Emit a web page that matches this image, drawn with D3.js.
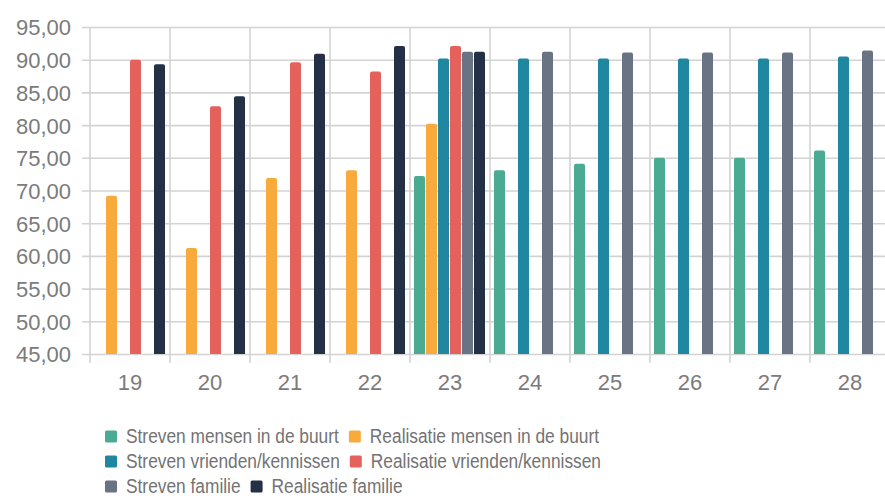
<!DOCTYPE html>
<html>
<head>
<meta charset="utf-8">
<script src="https://cdn.jsdelivr.net/npm/d3@7"></script>
<style>
  html, body { margin: 0; padding: 0; background: #fff; overflow: hidden; }
  svg { display: block; font-family: "Liberation Sans", Arial, sans-serif; }
</style>
</head>
<body>
<svg id="chart" width="885" height="500"></svg>
<script>
// ---- data ----
const categories = ["19", "20", "21", "22", "23", "24", "25", "26", "27", "28"];
const seriesNames = [
  "Streven mensen in de buurt",
  "Realisatie mensen in de buurt",
  "Streven vrienden/kennissen",
  "Realisatie vrienden/kennissen",
  "Streven familie",
  "Realisatie familie"
];
const strevenBuurt       = [null, null, null, null, 72.2, 73.1, 74.1, 75.0, 75.0, 76.1];
const realisatieBuurt    = [69.2, 61.2, 71.9, 73.1, 80.2, null, null, null, null, null];
const strevenVrienden    = [null, null, null, null, 90.2, 90.2, 90.2, 90.2, 90.2, 90.5];
const realisatieVrienden = [90.0, 82.9, 89.6, 88.2, 92.1, null, null, null, null, null];
const strevenFamilie     = [null, null, null, null, 91.2, 91.2, 91.1, 91.1, 91.1, 91.4];
const realisatieFamilie  = [89.3, 84.4, 90.9, 92.1, 91.2, null, null, null, null, null];
const yTicks = [45, 50, 55, 60, 65, 70, 75, 80, 85, 90, 95];
const colors = ["#4bab92", "#f9aa3c", "#1f88a0", "#e5625c", "#6a7384", "#233046"];

const seriesValues = [strevenBuurt, realisatieBuurt, strevenVrienden, realisatieVrienden, strevenFamilie, realisatieFamilie];

// ---- layout ----
const svg = d3.select("#chart");
const mLeft = 90, mRight = 890, mTop = 27, mBottom = 354;

const x = d3.scaleBand().domain(categories).range([mLeft, mRight]).paddingInner(0).paddingOuter(0);
const xs = d3.scaleBand().domain(d3.range(seriesNames.length)).range([4, x.bandwidth() - 4]).padding(0);
const y = d3.scaleLinear().domain([45, 95]).range([mBottom, mTop]);

const locale = d3.formatLocale({ decimal: ",", thousands: ".", grouping: [3], currency: ["€", ""] });
const fmt = locale.format(".2f");

const gridColor = "#d3d3d3";
const textColor = "#7b7b7b";

// horizontal gridlines + y labels
const yAxis = svg.append("g")
  .attr("transform", `translate(${mLeft},0)`)
  .call(d3.axisLeft(y).tickValues(yTicks).tickFormat(fmt).tickSize(8).tickPadding(11));
yAxis.select(".domain").remove();
yAxis.selectAll(".tick line").attr("x1", -8).attr("x2", mRight - mLeft).attr("stroke", gridColor).attr("stroke-width", 1.6);
yAxis.selectAll(".tick text").attr("fill", textColor).style("font-size", "22px").attr("dy", "0.36em");

// vertical gridlines at category boundaries
const bounds = categories.map(c => x(c)).concat([x(categories[categories.length - 1]) + x.bandwidth()]);
svg.append("g").selectAll("line").data(bounds).join("line")
  .attr("x1", d => d).attr("x2", d => d)
  .attr("y1", mTop).attr("y2", mBottom + 9)
  .attr("stroke", gridColor).attr("stroke-width", 1.6);

// x labels
const xAxis = svg.append("g")
  .attr("transform", `translate(0,${mBottom})`)
  .call(d3.axisBottom(x).tickSize(0).tickPadding(20));
xAxis.select(".domain").remove();
xAxis.selectAll(".tick text").attr("fill", textColor).style("font-size", "22px");

// bars
function barPath(x0, w, yTop, yBot, r) {
  r = Math.min(r, w / 2, (yBot - yTop));
  return `M${x0},${yBot} L${x0},${yTop + r} Q${x0},${yTop} ${x0 + r},${yTop} L${x0 + w - r},${yTop} Q${x0 + w},${yTop} ${x0 + w},${yTop + r} L${x0 + w},${yBot} Z`;
}
const barData = [];
categories.forEach((c, i) => {
  seriesValues.forEach((vals, s) => {
    if (vals[i] != null) barData.push({ c, s, v: vals[i] });
  });
});
const barW = xs.bandwidth() - 1;
svg.append("g").selectAll("path").data(barData).join("path")
  .attr("d", d => barPath(x(d.c) + xs(d.s), barW, y(d.v), y(45), 2))
  .attr("fill", d => colors[d.s]);

// legend
const legendRows = [[0, 1], [2, 3], [4, 5]];
const legendX = 105, legendY0 = 436.5, rowGap = 25, sx = 0.825;
const leg = svg.append("g");
legendRows.forEach((row, ri) => {
  let cx = legendX;
  const cy = legendY0 + ri * rowGap;
  row.forEach(s => {
    const g = leg.append("g").attr("transform", `translate(${cx},${cy})`);
    g.append("rect").attr("x", 0).attr("y", -6).attr("width", 12).attr("height", 12)
      .attr("rx", 1.5).attr("fill", colors[s]);
    const t = g.append("text")
      .attr("transform", `translate(21,0) scale(${sx},1)`)
      .attr("y", 6.5)
      .attr("fill", "#737373")
      .style("font-size", "21px")
      .text(seriesNames[s]);
    const w = t.node().getComputedTextLength() * sx;
    cx += 21 + w + 10;
  });
});
</script>
</body>
</html>
